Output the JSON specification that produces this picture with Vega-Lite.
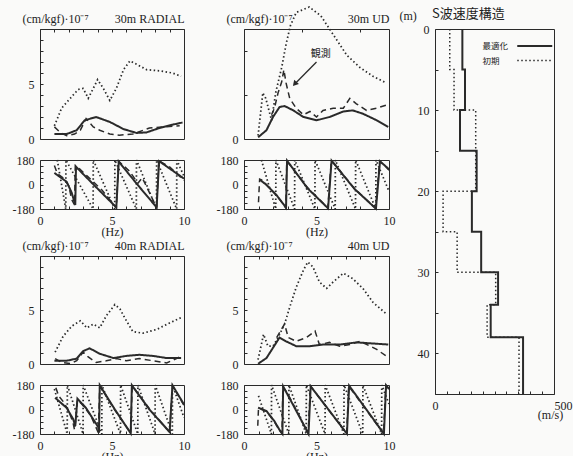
{
  "$schema": "https://vega.github.io/schema/vega-lite/v6.json",
  "background": "#fafaf9",
  "padding": {"left": 11, "top": 3, "right": 0, "bottom": 0},
  "config": {
    "font": "Liberation Serif",
    "view": {"stroke": "#2a2a2a", "strokeWidth": 1},
    "axis": {"grid": false, "domain": false, "tickColor": "#2a2a2a", "tickSize": -3, "labelPadding": 9, "labelFont": "Liberation Serif", "labelFontSize": 12, "labelColor": "#222", "labelOverlap": false, "labelFlush": false, "titleFont": "Liberation Serif", "titleFontSize": 12, "titleFontWeight": "normal", "titleColor": "#222"},
    "title": {"font": "Liberation Serif", "fontSize": 12, "fontWeight": "normal", "color": "#222"},
    "line": {"color": "#2a2a2a", "clip": true}
  },
  "spacing": 2,
  "resolve": {"scale": {"strokeDash": "independent", "strokeWidth": "independent"}, "legend": {"strokeDash": "independent", "strokeWidth": "independent"}},
  "hconcat": [
    {
      "spacing": 0,
      "vconcat": [
        {
          "bounds": "flush",
          "columns": 2,
          "spacing": {"row": 21, "column": 60},
          "concat": [
            {
              "width": 144, "height": 110,
              "data": {"values": [
                {"f":1.0,"v":1.2,"s":"初期"},{"f":1.5,"v":2.8,"s":"初期"},{"f":2.1,"v":3.7,"s":"初期"},{"f":2.65,"v":4.5,"s":"初期"},{"f":3.0,"v":4.6,"s":"初期"},{"f":3.35,"v":3.7,"s":"初期"},{"f":3.7,"v":4.6,"s":"初期"},{"f":4.0,"v":5.4,"s":"初期"},{"f":4.4,"v":4.6,"s":"初期"},{"f":4.85,"v":3.5,"s":"初期"},{"f":5.3,"v":4.6,"s":"初期"},{"f":5.8,"v":6.3,"s":"初期"},{"f":6.25,"v":7.1,"s":"初期"},{"f":6.7,"v":6.8,"s":"初期"},{"f":7.4,"v":6.3,"s":"初期"},{"f":8.3,"v":6.2,"s":"初期"},{"f":9.2,"v":6.0,"s":"初期"},{"f":9.8,"v":5.7,"s":"初期"},
                {"f":1.0,"v":0.45,"s":"最適化"},{"f":1.85,"v":0.45,"s":"最適化"},{"f":2.55,"v":0.8,"s":"最適化"},{"f":3.1,"v":1.7,"s":"最適化"},{"f":3.9,"v":2.0,"s":"最適化"},{"f":4.85,"v":1.55,"s":"最適化"},{"f":5.8,"v":0.9,"s":"最適化"},{"f":6.7,"v":0.55,"s":"最適化"},{"f":7.4,"v":0.6,"s":"最適化"},{"f":8.3,"v":1.0,"s":"最適化"},{"f":9.2,"v":1.3,"s":"最適化"},{"f":9.9,"v":1.5,"s":"最適化"},
                {"f":1.0,"v":1.1,"s":"観測"},{"f":1.4,"v":0.6,"s":"観測"},{"f":1.85,"v":0.3,"s":"観測"},{"f":2.4,"v":0.45,"s":"観測"},{"f":2.8,"v":0.8,"s":"観測"},{"f":3.2,"v":1.85,"s":"観測"},{"f":3.7,"v":1.1,"s":"観測"},{"f":4.15,"v":0.8,"s":"観測"},{"f":4.85,"v":0.45,"s":"観測"},{"f":5.5,"v":0.35,"s":"観測"},{"f":6.45,"v":0.45,"s":"観測"},{"f":7.6,"v":1.0,"s":"観測"},{"f":8.5,"v":1.1,"s":"観測"},{"f":9.7,"v":1.2,"s":"観測"}
              ]},
              "mark": {"type": "line"},
              "encoding": {
                "x": {"field": "f", "type": "quantitative", "scale": {"domain": [0, 10]}, "axis": {"orient": "top", "values": [0,1,2,3,4,5,6,7,8,9,10], "labels": false, "title": "30m RADIAL", "titleX": 144, "titleY": -7, "titleAlign": "right", "titleBaseline": "alphabetic"}},
                "y": {"field": "v", "type": "quantitative", "scale": {"domain": [0, 10]}, "axis": {"values": [0,1,2,3,4,5,6,7,8,9,10], "labelExpr": "datum.value==0||datum.value==5?datum.label:''", "title": "(cm/kgf)·10⁻⁷", "titleAngle": 0, "titleX": -18, "titleY": -7, "titleAlign": "left", "titleBaseline": "alphabetic"}},
                "strokeDash": {"field": "s", "type": "nominal", "scale": {"domain": ["最適化","初期","観測"], "range": [[1,0],[1.5,2.5],[6,4]]}, "legend": null},
                "strokeWidth": {"field": "s", "type": "ordinal", "scale": {"domain": ["最適化","初期","観測"], "range": [2,1.5,1.5]}, "legend": null}
              }
            },
            {
              "width": 145, "height": 110,
              "layer": [
                {
                  "data": {"values": [
                    {"f":0.97,"v":0.3,"s":"初期"},{"f":1.3,"v":4.2,"s":"初期"},{"f":1.5,"v":3.7,"s":"初期"},{"f":1.8,"v":2.2,"s":"初期"},{"f":1.9,"v":1.7,"s":"初期"},{"f":2.2,"v":4.3,"s":"初期"},{"f":2.6,"v":6.5,"s":"初期"},{"f":2.9,"v":8.6,"s":"初期"},{"f":3.2,"v":10.3,"s":"初期"},{"f":3.6,"v":11.5,"s":"初期"},{"f":4.5,"v":12,"s":"初期"},{"f":5.3,"v":11.2,"s":"初期"},{"f":5.9,"v":10.0,"s":"初期"},{"f":6.4,"v":9.0,"s":"初期"},{"f":7.1,"v":7.6,"s":"初期"},{"f":8.0,"v":6.5,"s":"初期"},{"f":8.9,"v":5.7,"s":"初期"},{"f":9.8,"v":5.1,"s":"初期"},
                    {"f":0.97,"v":0.15,"s":"最適化"},{"f":1.55,"v":0.8,"s":"最適化"},{"f":2.0,"v":2.0,"s":"最適化"},{"f":2.45,"v":2.9,"s":"最適化"},{"f":2.8,"v":3.0,"s":"最適化"},{"f":3.4,"v":2.6,"s":"最適化"},{"f":4.1,"v":2.0,"s":"最適化"},{"f":5.0,"v":1.7,"s":"最適化"},{"f":5.9,"v":2.0,"s":"最適化"},{"f":6.85,"v":2.5,"s":"最適化"},{"f":7.5,"v":2.6,"s":"最適化"},{"f":8.2,"v":2.3,"s":"最適化"},{"f":9.15,"v":1.7,"s":"最適化"},{"f":9.95,"v":1.1,"s":"最適化"},
                    {"f":1.9,"v":2.2,"s":"観測"},{"f":2.1,"v":2.8,"s":"観測"},{"f":2.35,"v":4.2,"s":"観測"},{"f":2.6,"v":5.2,"s":"観測"},{"f":2.75,"v":6.3,"s":"観測"},{"f":2.9,"v":5.1,"s":"観測"},{"f":3.15,"v":3.7,"s":"観測"},{"f":3.6,"v":2.8,"s":"観測"},{"f":4.1,"v":2.2,"s":"観測"},{"f":4.55,"v":2.5,"s":"観測"},{"f":5.0,"v":2.0,"s":"観測"},{"f":5.45,"v":2.6,"s":"観測"},{"f":6.15,"v":2.8,"s":"観測"},{"f":6.85,"v":2.8,"s":"観測"},{"f":7.3,"v":3.7,"s":"観測"},{"f":7.75,"v":3.2,"s":"観測"},{"f":8.45,"v":2.6,"s":"観測"},{"f":9.15,"v":2.8,"s":"観測"},{"f":9.85,"v":3.1,"s":"観測"}
                  ]},
                  "mark": {"type": "line"},
                  "encoding": {
                    "x": {"field": "f", "type": "quantitative", "scale": {"domain": [0, 10]}, "axis": {"orient": "top", "values": [0,1,2,3,4,5,6,7,8,9,10], "labels": false, "title": "30m UD", "titleX": 145, "titleY": -7, "titleAlign": "right", "titleBaseline": "alphabetic"}},
                    "y": {"field": "v", "type": "quantitative", "scale": {"domain": [0, 10]}, "axis": {"values": [0,1,2,3,4,5,6,7,8,9,10], "labelExpr": "datum.value==0||datum.value==5?datum.label:''", "title": "(cm/kgf)·10⁻⁷", "titleAngle": 0, "titleX": -18, "titleY": -7, "titleAlign": "left", "titleBaseline": "alphabetic"}},
                    "strokeDash": {"field": "s", "type": "nominal", "scale": {"domain": ["最適化","初期","観測"], "range": [[1,0],[1.5,2.5],[6,4]]}, "legend": null},
                    "strokeWidth": {"field": "s", "type": "ordinal", "scale": {"domain": ["最適化","初期","観測"], "range": [2,1.5,1.5]}, "legend": null}
                  }
                },
                {
                  "data": {"values": [{"f": 5.0, "v": 7.0, "f2": 3.5, "v2": 5.0}]},
                  "mark": {"type": "rule", "color": "#2a2a2a", "strokeWidth": 1.3},
                  "encoding": {"x": {"field": "f", "type": "quantitative"}, "y": {"field": "v", "type": "quantitative"}, "x2": {"field": "f2"}, "y2": {"field": "v2"}}
                },
                {
                  "data": {"values": [{"f": 3.5, "v": 5.0}]},
                  "mark": {"type": "point", "shape": "triangle-up", "filled": true, "color": "#2a2a2a", "size": 40, "angle": 221, "opacity": 1},
                  "encoding": {"x": {"field": "f", "type": "quantitative"}, "y": {"field": "v", "type": "quantitative"}}
                },
                {
                  "data": {"values": [{"f": 5.3, "v": 7.7, "t": "観測"}]},
                  "mark": {"type": "text", "font": "Noto Sans CJK JP", "fontSize": 10, "color": "#222", "align": "center"},
                  "encoding": {"x": {"field": "f", "type": "quantitative"}, "y": {"field": "v", "type": "quantitative"}, "text": {"field": "t"}}
                }
              ]
            },
            {
              "width": 144, "height": 49,
              "data": {"values": [
                {"f":1.2,"p":180,"s":"初期"},{"f":1.79,"p":-180,"s":"初期"},{"f":1.8,"p":180,"s":"初期"},{"f":3.69,"p":-180,"s":"初期"},{"f":3.7,"p":180,"s":"初期"},{"f":5.19,"p":-180,"s":"初期"},{"f":5.2,"p":180,"s":"初期"},{"f":6.69,"p":-180,"s":"初期"},{"f":6.7,"p":180,"s":"初期"},{"f":8.09,"p":-180,"s":"初期"},{"f":8.1,"p":180,"s":"初期"},{"f":9.49,"p":-180,"s":"初期"},{"f":9.5,"p":180,"s":"初期"},{"f":10,"p":60,"s":"初期"},
                {"f":1.0,"p":85,"s":"最適化"},{"f":1.85,"p":20,"s":"最適化"},{"f":2.2,"p":-60,"s":"最適化"},{"f":2.45,"p":-150,"s":"最適化"},{"f":2.5,"p":130,"s":"最適化"},{"f":3.9,"p":-20,"s":"最適化"},{"f":5.3,"p":-168,"s":"最適化"},{"f":5.47,"p":168,"s":"最適化"},{"f":6.8,"p":-5,"s":"最適化"},{"f":8.1,"p":-168,"s":"最適化"},{"f":8.27,"p":172,"s":"最適化"},{"f":10,"p":43,"s":"最適化"},
                {"f":1.0,"p":140,"s":"観測"},{"f":1.2,"p":80,"s":"観測"},{"f":1.6,"p":50,"s":"観測"},{"f":2.0,"p":-10,"s":"観測"},{"f":2.2,"p":-110,"s":"観測"},{"f":2.4,"p":-150,"s":"観測"},{"f":2.45,"p":140,"s":"観測"},{"f":2.7,"p":120,"s":"観測"},{"f":3.3,"p":60,"s":"観測"},{"f":4.3,"p":-40,"s":"観測"},{"f":5.3,"p":-172,"s":"観測"},{"f":5.45,"p":172,"s":"観測"},{"f":6.2,"p":100,"s":"観測"},{"f":6.8,"p":10,"s":"観測"},{"f":7.1,"p":50,"s":"観測"},{"f":7.6,"p":-60,"s":"観測"},{"f":8.1,"p":-170,"s":"観測"},{"f":8.25,"p":175,"s":"観測"},{"f":9.0,"p":130,"s":"観測"},{"f":10,"p":30,"s":"観測"}
              ]},
              "mark": {"type": "line"},
              "encoding": {
                "x": {"field": "f", "type": "quantitative", "scale": {"domain": [0, 10]}, "axis": {"values": [0,1,2,3,4,5,6,7,8,9,10], "labelExpr": "datum.value%5==0?datum.label:''", "title": "(Hz)", "titlePadding": 0}},
                "y": {"field": "p", "type": "quantitative", "scale": {"domain": [-180, 180]}, "axis": {"values": [-180,-135,-90,-45,0,45,90,135,180], "labelExpr": "datum.value==180?'180':datum.value==0?'0':datum.value==-180?'-180':''", "title": null}},
                "strokeDash": {"field": "s", "type": "nominal", "scale": {"domain": ["最適化","初期","観測"], "range": [[1,0],[1.5,2.5],[6,4]]}, "legend": null},
                "strokeWidth": {"field": "s", "type": "ordinal", "scale": {"domain": ["最適化","初期","観測"], "range": [2,1.5,1.5]}, "legend": null}
              }
            },
            {
              "width": 145, "height": 49,
              "data": {"values": [
                {"f":1.2,"p":180,"s":"初期"},{"f":2.19,"p":-180,"s":"初期"},{"f":2.2,"p":180,"s":"初期"},{"f":3.49,"p":-180,"s":"初期"},{"f":3.5,"p":180,"s":"初期"},{"f":4.89,"p":-180,"s":"初期"},{"f":4.9,"p":180,"s":"初期"},{"f":6.29,"p":-180,"s":"初期"},{"f":6.3,"p":180,"s":"初期"},{"f":7.69,"p":-180,"s":"初期"},{"f":7.7,"p":180,"s":"初期"},{"f":9.09,"p":-180,"s":"初期"},{"f":9.1,"p":180,"s":"初期"},{"f":10,"p":-50,"s":"初期"},
                {"f":1.1,"p":35,"s":"最適化"},{"f":1.55,"p":-3,"s":"最適化"},{"f":2.25,"p":-79,"s":"最適化"},{"f":2.9,"p":-170,"s":"最適化"},{"f":2.97,"p":175,"s":"最適化"},{"f":4.4,"p":-30,"s":"最適化"},{"f":5.8,"p":-175,"s":"最適化"},{"f":6.04,"p":175,"s":"最適化"},{"f":7.6,"p":-30,"s":"最適化"},{"f":9.1,"p":-178,"s":"最適化"},{"f":9.38,"p":170,"s":"最適化"},{"f":10,"p":112,"s":"最適化"},
                {"f":1.0,"p":-130,"s":"観測"},{"f":1.03,"p":-60,"s":"観測"},{"f":1.08,"p":40,"s":"観測"},{"f":1.3,"p":30,"s":"観測"},{"f":1.6,"p":-10,"s":"観測"},{"f":2.3,"p":-85,"s":"観測"},{"f":2.88,"p":-172,"s":"観測"},{"f":2.95,"p":172,"s":"観測"},{"f":4.4,"p":-25,"s":"観測"},{"f":5.78,"p":-172,"s":"観測"},{"f":6.02,"p":178,"s":"観測"},{"f":7.6,"p":-28,"s":"観測"},{"f":9.08,"p":-175,"s":"観測"},{"f":9.35,"p":172,"s":"観測"},{"f":9.7,"p":140,"s":"観測"},{"f":10,"p":105,"s":"観測"}
              ]},
              "mark": {"type": "line"},
              "encoding": {
                "x": {"field": "f", "type": "quantitative", "scale": {"domain": [0, 10]}, "axis": {"values": [0,1,2,3,4,5,6,7,8,9,10], "labelExpr": "datum.value%5==0?datum.label:''", "title": "(Hz)", "titlePadding": 0}},
                "y": {"field": "p", "type": "quantitative", "scale": {"domain": [-180, 180]}, "axis": {"values": [-180,-135,-90,-45,0,45,90,135,180], "labelExpr": "datum.value==180?'180':datum.value==0?'0':datum.value==-180?'-180':''", "title": null}},
                "strokeDash": {"field": "s", "type": "nominal", "scale": {"domain": ["最適化","初期","観測"], "range": [[1,0],[1.5,2.5],[6,4]]}, "legend": null},
                "strokeWidth": {"field": "s", "type": "ordinal", "scale": {"domain": ["最適化","初期","観測"], "range": [2,1.5,1.5]}, "legend": null}
              }
            }
          ]
        },
        {
          "bounds": "flush",
          "columns": 2,
          "spacing": {"row": 21, "column": 60},
          "concat": [
            {
              "width": 144, "height": 108,
              "data": {"values": [
                {"f":1.05,"v":1.1,"s":"初期"},{"f":1.6,"v":2.55,"s":"初期"},{"f":2.2,"v":3.5,"s":"初期"},{"f":2.8,"v":4.0,"s":"初期"},{"f":3.25,"v":3.35,"s":"初期"},{"f":3.7,"v":3.7,"s":"初期"},{"f":4.15,"v":3.35,"s":"初期"},{"f":4.6,"v":4.45,"s":"初期"},{"f":5.2,"v":5.5,"s":"初期"},{"f":5.55,"v":5.1,"s":"初期"},{"f":6.0,"v":4.0,"s":"初期"},{"f":6.45,"v":3.0,"s":"初期"},{"f":7.15,"v":2.85,"s":"初期"},{"f":8.1,"v":3.2,"s":"初期"},{"f":9.0,"v":3.8,"s":"初期"},{"f":9.8,"v":4.3,"s":"初期"},
                {"f":1.0,"v":0.3,"s":"最適化"},{"f":1.85,"v":0.3,"s":"最適化"},{"f":2.55,"v":0.5,"s":"最適化"},{"f":3.0,"v":1.2,"s":"最適化"},{"f":3.45,"v":1.45,"s":"最適化"},{"f":4.15,"v":0.95,"s":"最適化"},{"f":5.1,"v":0.55,"s":"最適化"},{"f":6.0,"v":0.75,"s":"最適化"},{"f":6.9,"v":0.85,"s":"最適化"},{"f":7.85,"v":0.75,"s":"最適化"},{"f":8.8,"v":0.55,"s":"最適化"},{"f":9.8,"v":0.55,"s":"最適化"},
                {"f":1.05,"v":0.5,"s":"観測"},{"f":1.5,"v":0.15,"s":"観測"},{"f":2.1,"v":0.05,"s":"観測"},{"f":2.55,"v":0.3,"s":"観測"},{"f":3.0,"v":1.1,"s":"観測"},{"f":3.35,"v":0.65,"s":"観測"},{"f":3.9,"v":0.15,"s":"観測"},{"f":4.6,"v":0.3,"s":"観測"},{"f":5.3,"v":0.5,"s":"観測"},{"f":6.0,"v":0.3,"s":"観測"},{"f":6.9,"v":0.5,"s":"観測"},{"f":7.85,"v":0.3,"s":"観測"},{"f":8.8,"v":0.1,"s":"観測"},{"f":9.7,"v":0.65,"s":"観測"}
              ]},
              "mark": {"type": "line"},
              "encoding": {
                "x": {"field": "f", "type": "quantitative", "scale": {"domain": [0, 10]}, "axis": {"orient": "top", "values": [0,1,2,3,4,5,6,7,8,9,10], "labels": false, "title": "40m RADIAL", "titleX": 144, "titleY": -7, "titleAlign": "right", "titleBaseline": "alphabetic"}},
                "y": {"field": "v", "type": "quantitative", "scale": {"domain": [0, 10]}, "axis": {"values": [0,1,2,3,4,5,6,7,8,9,10], "labelExpr": "datum.value==0||datum.value==5?datum.label:''", "title": "(cm/kgf)·10⁻⁷", "titleAngle": 0, "titleX": -18, "titleY": -7, "titleAlign": "left", "titleBaseline": "alphabetic"}},
                "strokeDash": {"field": "s", "type": "nominal", "scale": {"domain": ["最適化","初期","観測"], "range": [[1,0],[1.5,2.5],[6,4]]}, "legend": null},
                "strokeWidth": {"field": "s", "type": "ordinal", "scale": {"domain": ["最適化","初期","観測"], "range": [2,1.5,1.5]}, "legend": null}
              }
            },
            {
              "width": 145, "height": 108,
              "data": {"values": [
                {"f":0.97,"v":0.4,"s":"初期"},{"f":1.35,"v":2.75,"s":"初期"},{"f":1.65,"v":1.65,"s":"初期"},{"f":2.0,"v":1.65,"s":"初期"},{"f":2.35,"v":2.45,"s":"初期"},{"f":2.8,"v":3.7,"s":"初期"},{"f":3.15,"v":5.25,"s":"初期"},{"f":3.6,"v":7.1,"s":"初期"},{"f":4.1,"v":8.7,"s":"初期"},{"f":4.4,"v":9.45,"s":"初期"},{"f":4.75,"v":9.0,"s":"初期"},{"f":5.2,"v":7.6,"s":"初期"},{"f":5.7,"v":7.0,"s":"初期"},{"f":6.15,"v":7.6,"s":"初期"},{"f":6.85,"v":8.4,"s":"初期"},{"f":7.5,"v":7.9,"s":"初期"},{"f":8.2,"v":7.0,"s":"初期"},{"f":8.9,"v":5.7,"s":"初期"},{"f":9.85,"v":4.6,"s":"初期"},
                {"f":0.97,"v":0.02,"s":"最適化"},{"f":1.55,"v":0.55,"s":"最適化"},{"f":2.0,"v":1.5,"s":"最適化"},{"f":2.45,"v":2.45,"s":"最適化"},{"f":2.9,"v":2.1,"s":"最適化"},{"f":3.6,"v":1.65,"s":"最適化"},{"f":4.55,"v":1.65,"s":"最適化"},{"f":5.45,"v":1.8,"s":"最適化"},{"f":6.6,"v":1.8,"s":"最適化"},{"f":7.75,"v":2.0,"s":"最適化"},{"f":8.9,"v":1.9,"s":"最適化"},{"f":9.95,"v":1.8,"s":"最適化"},
                {"f":2.25,"v":2.45,"s":"観測"},{"f":2.8,"v":3.7,"s":"観測"},{"f":3.05,"v":2.45,"s":"観測"},{"f":3.6,"v":2.1,"s":"観測"},{"f":4.3,"v":2.45,"s":"観測"},{"f":4.9,"v":3.05,"s":"観測"},{"f":5.2,"v":1.8,"s":"観測"},{"f":5.9,"v":2.0,"s":"観測"},{"f":6.6,"v":1.65,"s":"観測"},{"f":7.3,"v":1.8,"s":"観測"},{"f":8.0,"v":2.1,"s":"観測"},{"f":8.7,"v":1.65,"s":"観測"},{"f":9.15,"v":1.35,"s":"観測"},{"f":9.85,"v":0.7,"s":"観測"}
              ]},
              "mark": {"type": "line"},
              "encoding": {
                "x": {"field": "f", "type": "quantitative", "scale": {"domain": [0, 10]}, "axis": {"orient": "top", "values": [0,1,2,3,4,5,6,7,8,9,10], "labels": false, "title": "40m UD", "titleX": 145, "titleY": -7, "titleAlign": "right", "titleBaseline": "alphabetic"}},
                "y": {"field": "v", "type": "quantitative", "scale": {"domain": [0, 10]}, "axis": {"values": [0,1,2,3,4,5,6,7,8,9,10], "labelExpr": "datum.value==0||datum.value==5?datum.label:''", "title": "(cm/kgf)·10⁻⁷", "titleAngle": 0, "titleX": -18, "titleY": -7, "titleAlign": "left", "titleBaseline": "alphabetic"}},
                "strokeDash": {"field": "s", "type": "nominal", "scale": {"domain": ["最適化","初期","観測"], "range": [[1,0],[1.5,2.5],[6,4]]}, "legend": null},
                "strokeWidth": {"field": "s", "type": "ordinal", "scale": {"domain": ["最適化","初期","観測"], "range": [2,1.5,1.5]}, "legend": null}
              }
            },
            {
              "width": 144, "height": 49,
              "data": {"values": [
                {"f":1.0,"p":150,"s":"初期"},{"f":1.89,"p":-180,"s":"初期"},{"f":1.9,"p":180,"s":"初期"},{"f":2.99,"p":-180,"s":"初期"},{"f":3.0,"p":180,"s":"初期"},{"f":4.29,"p":-180,"s":"初期"},{"f":4.3,"p":180,"s":"初期"},{"f":5.59,"p":-180,"s":"初期"},{"f":5.6,"p":180,"s":"初期"},{"f":6.79,"p":-180,"s":"初期"},{"f":6.8,"p":180,"s":"初期"},{"f":7.99,"p":-180,"s":"初期"},{"f":8.0,"p":180,"s":"初期"},{"f":9.19,"p":-180,"s":"初期"},{"f":9.2,"p":180,"s":"初期"},{"f":10,"p":-60,"s":"初期"},
                {"f":1.05,"p":86,"s":"最適化"},{"f":1.85,"p":12,"s":"最適化"},{"f":2.3,"p":-70,"s":"最適化"},{"f":2.45,"p":-120,"s":"最適化"},{"f":2.6,"p":80,"s":"最適化"},{"f":3.2,"p":10,"s":"最適化"},{"f":4.05,"p":-130,"s":"最適化"},{"f":4.1,"p":-170,"s":"最適化"},{"f":4.15,"p":178,"s":"最適化"},{"f":5.2,"p":0,"s":"最適化"},{"f":6.3,"p":-175,"s":"最適化"},{"f":6.38,"p":178,"s":"最適化"},{"f":7.6,"p":0,"s":"最適化"},{"f":9.0,"p":-165,"s":"最適化"},{"f":9.2,"p":178,"s":"最適化"},{"f":10,"p":37,"s":"最適化"},
                {"f":1.1,"p":160,"s":"観測"},{"f":1.3,"p":100,"s":"観測"},{"f":1.6,"p":60,"s":"観測"},{"f":2.0,"p":-10,"s":"観測"},{"f":2.3,"p":-100,"s":"観測"},{"f":2.4,"p":-150,"s":"観測"},{"f":2.5,"p":-60,"s":"観測"},{"f":2.6,"p":70,"s":"観測"},{"f":2.9,"p":40,"s":"観測"},{"f":3.5,"p":-40,"s":"観測"},{"f":4.05,"p":-170,"s":"観測"},{"f":4.15,"p":175,"s":"観測"},{"f":5.2,"p":-5,"s":"観測"},{"f":6.3,"p":-172,"s":"観測"},{"f":6.4,"p":175,"s":"観測"},{"f":7.6,"p":5,"s":"観測"},{"f":9.0,"p":-168,"s":"観測"},{"f":9.2,"p":175,"s":"観測"},{"f":10,"p":30,"s":"観測"}
              ]},
              "mark": {"type": "line"},
              "encoding": {
                "x": {"field": "f", "type": "quantitative", "scale": {"domain": [0, 10]}, "axis": {"values": [0,1,2,3,4,5,6,7,8,9,10], "labelExpr": "datum.value%5==0?datum.label:''", "title": "(Hz)", "titlePadding": 0}},
                "y": {"field": "p", "type": "quantitative", "scale": {"domain": [-180, 180]}, "axis": {"values": [-180,-135,-90,-45,0,45,90,135,180], "labelExpr": "datum.value==180?'180':datum.value==0?'0':datum.value==-180?'-180':''", "title": null}},
                "strokeDash": {"field": "s", "type": "nominal", "scale": {"domain": ["最適化","初期","観測"], "range": [[1,0],[1.5,2.5],[6,4]]}, "legend": null},
                "strokeWidth": {"field": "s", "type": "ordinal", "scale": {"domain": ["最適化","初期","観測"], "range": [2,1.5,1.5]}, "legend": null}
              }
            },
            {
              "width": 145, "height": 49,
              "data": {"values": [
                {"f":1.0,"p":100,"s":"初期"},{"f":1.89,"p":-180,"s":"初期"},{"f":1.9,"p":180,"s":"初期"},{"f":3.09,"p":-180,"s":"初期"},{"f":3.1,"p":180,"s":"初期"},{"f":4.29,"p":-180,"s":"初期"},{"f":4.3,"p":180,"s":"初期"},{"f":5.59,"p":-180,"s":"初期"},{"f":5.6,"p":180,"s":"初期"},{"f":6.89,"p":-180,"s":"初期"},{"f":6.9,"p":180,"s":"初期"},{"f":8.19,"p":-180,"s":"初期"},{"f":8.2,"p":180,"s":"初期"},{"f":9.49,"p":-180,"s":"初期"},{"f":9.5,"p":180,"s":"初期"},{"f":10,"p":40,"s":"初期"},
                {"f":0.97,"p":14,"s":"最適化"},{"f":1.55,"p":-11,"s":"最適化"},{"f":2.1,"p":-86,"s":"最適化"},{"f":2.45,"p":-150,"s":"最適化"},{"f":2.65,"p":-178,"s":"最適化"},{"f":2.7,"p":170,"s":"最適化"},{"f":4.45,"p":-178,"s":"最適化"},{"f":4.6,"p":170,"s":"最適化"},{"f":7.1,"p":-178,"s":"最適化"},{"f":7.25,"p":175,"s":"最適化"},{"f":9.65,"p":-178,"s":"最適化"},{"f":9.8,"p":178,"s":"最適化"},{"f":10,"p":150,"s":"最適化"},
                {"f":0.95,"p":-120,"s":"観測"},{"f":1.0,"p":10,"s":"観測"},{"f":1.55,"p":-15,"s":"観測"},{"f":2.1,"p":-90,"s":"観測"},{"f":2.45,"p":-155,"s":"観測"},{"f":2.62,"p":-178,"s":"観測"},{"f":2.68,"p":165,"s":"観測"},{"f":3.0,"p":120,"s":"観測"},{"f":4.42,"p":-175,"s":"観測"},{"f":4.58,"p":172,"s":"観測"},{"f":7.08,"p":-176,"s":"観測"},{"f":7.22,"p":172,"s":"観測"},{"f":9.62,"p":-176,"s":"観測"},{"f":9.78,"p":176,"s":"観測"},{"f":10,"p":148,"s":"観測"}
              ]},
              "mark": {"type": "line"},
              "encoding": {
                "x": {"field": "f", "type": "quantitative", "scale": {"domain": [0, 10]}, "axis": {"values": [0,1,2,3,4,5,6,7,8,9,10], "labelExpr": "datum.value%5==0?datum.label:''", "title": "(Hz)", "titlePadding": 0}},
                "y": {"field": "p", "type": "quantitative", "scale": {"domain": [-180, 180]}, "axis": {"values": [-180,-135,-90,-45,0,45,90,135,180], "labelExpr": "datum.value==180?'180':datum.value==0?'0':datum.value==-180?'-180':''", "title": null}},
                "strokeDash": {"field": "s", "type": "nominal", "scale": {"domain": ["最適化","初期","観測"], "range": [[1,0],[1.5,2.5],[6,4]]}, "legend": null},
                "strokeWidth": {"field": "s", "type": "ordinal", "scale": {"domain": ["最適化","初期","観測"], "range": [2,1.5,1.5]}, "legend": null}
              }
            }
          ]
        }
      ]
    },
    {
      "width": 119, "height": 365,
      "title": {"text": "S波速度構造", "anchor": "start", "frame": "group", "font": "Noto Sans CJK JP", "fontSize": 13, "dx": -3, "offset": -12},
      "data": {"values": [
        {"v":115,"d":0,"s":"最適化"},{"v":126,"d":5,"s":"最適化"},{"v":105,"d":10,"s":"最適化"},{"v":175,"d":15,"s":"最適化"},{"v":155,"d":20,"s":"最適化"},{"v":194,"d":25,"s":"最適化"},{"v":265,"d":30,"s":"最適化"},{"v":234,"d":34,"s":"最適化"},{"v":370,"d":38,"s":"最適化"},{"v":370,"d":45,"s":"最適化"},
        {"v":62,"d":0,"s":"初期"},{"v":80,"d":5,"s":"初期"},{"v":171,"d":10,"s":"初期"},{"v":34,"d":20,"s":"初期"},{"v":93,"d":25,"s":"初期"},{"v":255,"d":30,"s":"初期"},{"v":219,"d":34,"s":"初期"},{"v":353,"d":38,"s":"初期"},{"v":353,"d":45,"s":"初期"}
      ]},
      "mark": {"type": "line", "interpolate": "step-before"},
      "encoding": {
        "x": {"field": "v", "type": "quantitative", "scale": {"domain": [0, 500]}, "axis": {"values": [0,50,100,150,200,250,300,350,400,450,500], "labelExpr": "datum.value==0||datum.value==500?datum.label:''", "labelAlign": {"expr": "datum.value==500?'left':'center'"}, "title": "(m/s)", "titleX": 115, "titleY": 24, "titleAlign": "center", "titleBaseline": "alphabetic"}},
        "y": {"field": "d", "type": "quantitative", "scale": {"domain": [0, 45], "reverse": true}, "axis": {"values": [0,5,10,15,20,25,30,35,40,45], "labelExpr": "datum.value%10==0?datum.label:''", "title": "(m)", "titleAngle": 0, "titleX": -36, "titleY": -10, "titleAlign": "left", "titleBaseline": "alphabetic"}},
        "order": {"field": "d", "type": "quantitative"},
        "strokeDash": {"field": "s", "type": "nominal", "scale": {"domain": ["最適化","初期"], "range": [[1,0],[1.5,2.5]]}, "legend": {"orient": "none", "legendX": 45, "legendY": 7, "title": null, "symbolType": "M-2,0H2", "symbolSize": 306, "symbolStrokeWidth": 1.5, "symbolStrokeColor": "#2a2a2a", "symbolOffset": 44.75, "labelOffset": -62.25, "labelFont": "Noto Sans CJK JP", "labelFontSize": 8.5, "labelColor": "#222", "rowPadding": -4, "padding": 0}},
        "strokeWidth": {"field": "s", "type": "ordinal", "scale": {"domain": ["最適化","初期"], "range": [2,1.5]}, "legend": null}
      }
    }
  ]
}
